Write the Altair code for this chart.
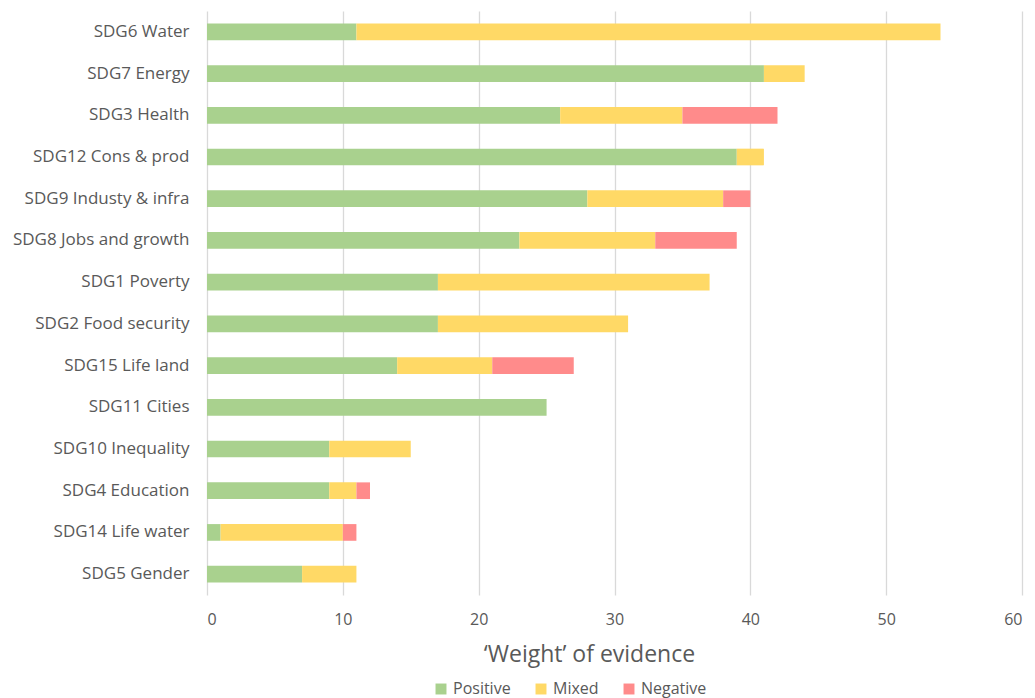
import altair as alt
import pandas as pd

categories = ["SDG6 Water", "SDG7 Energy", "SDG3 Health", "SDG12 Cons & prod",
              "SDG9 Industy & infra", "SDG8 Jobs and growth", "SDG1 Poverty",
              "SDG2 Food security", "SDG15 Life land", "SDG11 Cities",
              "SDG10 Inequality", "SDG4 Education", "SDG14 Life water", "SDG5 Gender"]
positive = [11, 41, 26, 39, 28, 23, 17, 17, 14, 25, 9, 9, 1, 7]
mixed =    [43, 3, 9, 2, 10, 10, 20, 14, 7, 0, 6, 2, 9, 4]
negative = [0, 0, 7, 0, 2, 6, 0, 0, 6, 0, 0, 1, 1, 0]
series = ["Positive", "Mixed", "Negative"]
colors = ["#A9D18E", "#FFD966", "#FF8B8B"]

rows = []
for i, c in enumerate(categories):
    for k, (s, vals) in enumerate(zip(series, [positive, mixed, negative])):
        rows.append({"cat": c, "series": s, "value": vals[i], "ord": k})
df = pd.DataFrame(rows)

font = "Open Sans"
chart = alt.Chart(df).mark_bar().encode(
    y=alt.Y("cat:N", sort=categories, title=None,
            scale=alt.Scale(paddingInner=0.6, paddingOuter=0.3),
            axis=alt.Axis(labelFontSize=17, labelColor="#595959", labelFont=font,
                          ticks=False, domain=False, grid=False, labelPadding=18)),
    x=alt.X("value:Q", stack="zero", title="\u2018Weight\u2019 of evidence",
            scale=alt.Scale(domain=[0, 60], nice=False),
            axis=alt.Axis(values=[0, 10, 20, 30, 40, 50, 60], grid=True,
                          gridColor="#D9D9D9", gridWidth=1.3, domain=False, ticks=False,
                          labelFontSize=16, labelColor="#595959", labelFont=font,
                          labelPadding=16, titleFontSize=23, titleColor="#595959",
                          titleFont=font, titleFontWeight="normal", titlePadding=16,
                          titleX=382, titleAlign="center")),
    color=alt.Color("series:N", sort=series,
                    scale=alt.Scale(domain=series, range=colors),
                    legend=alt.Legend(title=None, orient="none", direction="horizontal",
                                      legendX=226, legendY=670, symbolType="square",
                                      symbolSize=120, symbolStrokeWidth=0,
                                      labelFontSize=16, labelColor="#595959",
                                      labelFont=font, columnPadding=22, symbolOffset=0)),
    order=alt.Order("ord:Q", sort="ascending"),
).properties(
    width=815, height=584,
    autosize=alt.AutoSizeParams(type="none"),
    padding={"left": 207, "top": 11, "right": 13, "bottom": 103},
).configure(background="white").configure_view(stroke="transparent", strokeWidth=0,
                                                strokeOpacity=0)

chart.save("out.html", embed_options={"renderer": "svg", "actions": False})
